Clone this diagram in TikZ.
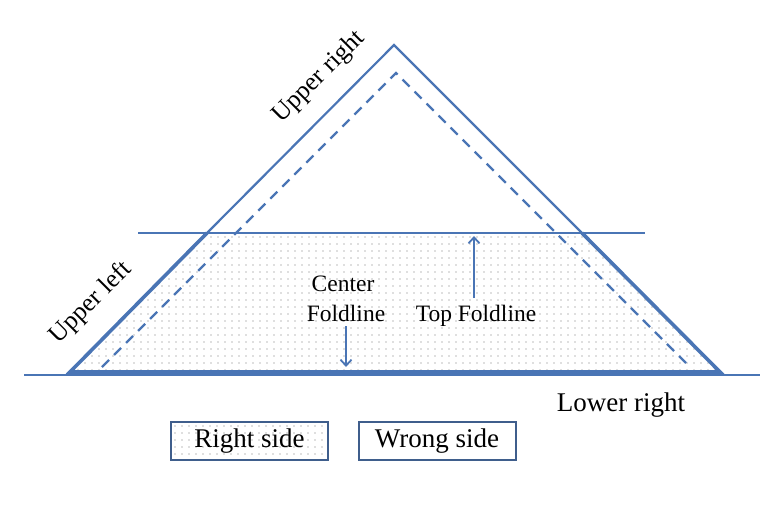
\documentclass[tikz,border=0pt]{standalone}
\usepackage{fontspec}
\setmainfont{Liberation Serif}
\usetikzlibrary{arrows.meta,patterns.meta}
\definecolor{lineblue}{HTML}{4A75B5}
\definecolor{boxblue}{HTML}{3F5E8C}
\tikzset{
  dotfill/.style={pattern={Dots[distance=6.5pt,radius=0.7pt]},pattern color=black!55},
  outline/.style={draw=lineblue,line width=2.2pt,line join=miter},
  thickedge/.style={draw=lineblue,line width=3.6pt,line join=miter},
  thinline/.style={draw=lineblue,line width=1.4pt},
  dashline/.style={draw=lineblue,line width=2.2pt,dash pattern=on 10pt off 7pt},
  foldarrow/.style={draw=lineblue,line width=1.8pt,-{Straight Barb[length=6pt,width=11pt,line width=1.8pt]}},
  lbl/.style={font=\fontsize{23.5}{25}\selectfont,inner sep=0pt},
  ulbl/.style={font=\fontsize{25.5}{27}\selectfont,inner sep=0pt},
  biglbl/.style={font=\fontsize{27}{29}\selectfont,inner sep=0pt},
  legendbox/.style={draw=boxblue,line width=2pt,minimum width=157pt,minimum height=38pt,inner sep=0pt,font=\fontsize{27}{29}\selectfont}
}
\begin{document}
\begin{tikzpicture}[x=1pt,y=-1pt]
\useasboundingbox (0,0) rectangle (760,512);
% key points
\coordinate (apex) at (394,45);
\coordinate (bl) at (70,372);
\coordinate (br) at (720,372);
\coordinate (tl) at (207,233);
\coordinate (tr) at (582,233);
\coordinate (dapex) at (396,73);
\coordinate (dbl) at (102,367);
\coordinate (dbr) at (690,367);
% shaded trapezoid (right side)
\path[dotfill] (bl) -- (tl) -- (tr) -- (br) -- cycle;
% fold lines
\coordinate (tfl) at (138,233);
\coordinate (tfr) at (645,233);
\coordinate (cfl) at (24,375);
\coordinate (cfr) at (760,375);
\draw[thinline] (tfl) -- (tfr);
\draw[thinline] (cfl) -- (cfr);
% outer triangle
\draw[outline] (tl) -- (apex) -- (tr);
\draw[outline,line width=2.5pt] (tl) -- (tr);
% thick trapezoid edges
\draw[thickedge] (tl) -- (bl) -- (br) -- (tr);
% dashed inner triangle
\draw[dashline] (dbl) -- (dapex) -- (dbr);
% labels
\node[ulbl,rotate=45] (ur) at (319,77) {Upper right};
\node[ulbl,rotate=45] (ul) at (91,303) {Upper left};
\node[lbl] (center) at (343,284) {Center};
\node[lbl] (cfold) at (346,313) {Foldline};
\node[lbl] (top) at (476,316) {Top Foldline};
\node[biglbl] (lr) at (621,405) {Lower right};
% arrows
\coordinate (ctip) at (346,367);
\coordinate (ttip) at (474,236);
\draw[foldarrow] (cfold.south) ++(0,5) -- (ctip);
\draw[foldarrow] (top.north) ++(-2,-7) -- (ttip);
% legend
\node[legendbox,dotfill] (rs) at (249.5,441) {Right side};
\node[legendbox] (ws) at (437,441) {Wrong side};
\end{tikzpicture}
\end{document}
